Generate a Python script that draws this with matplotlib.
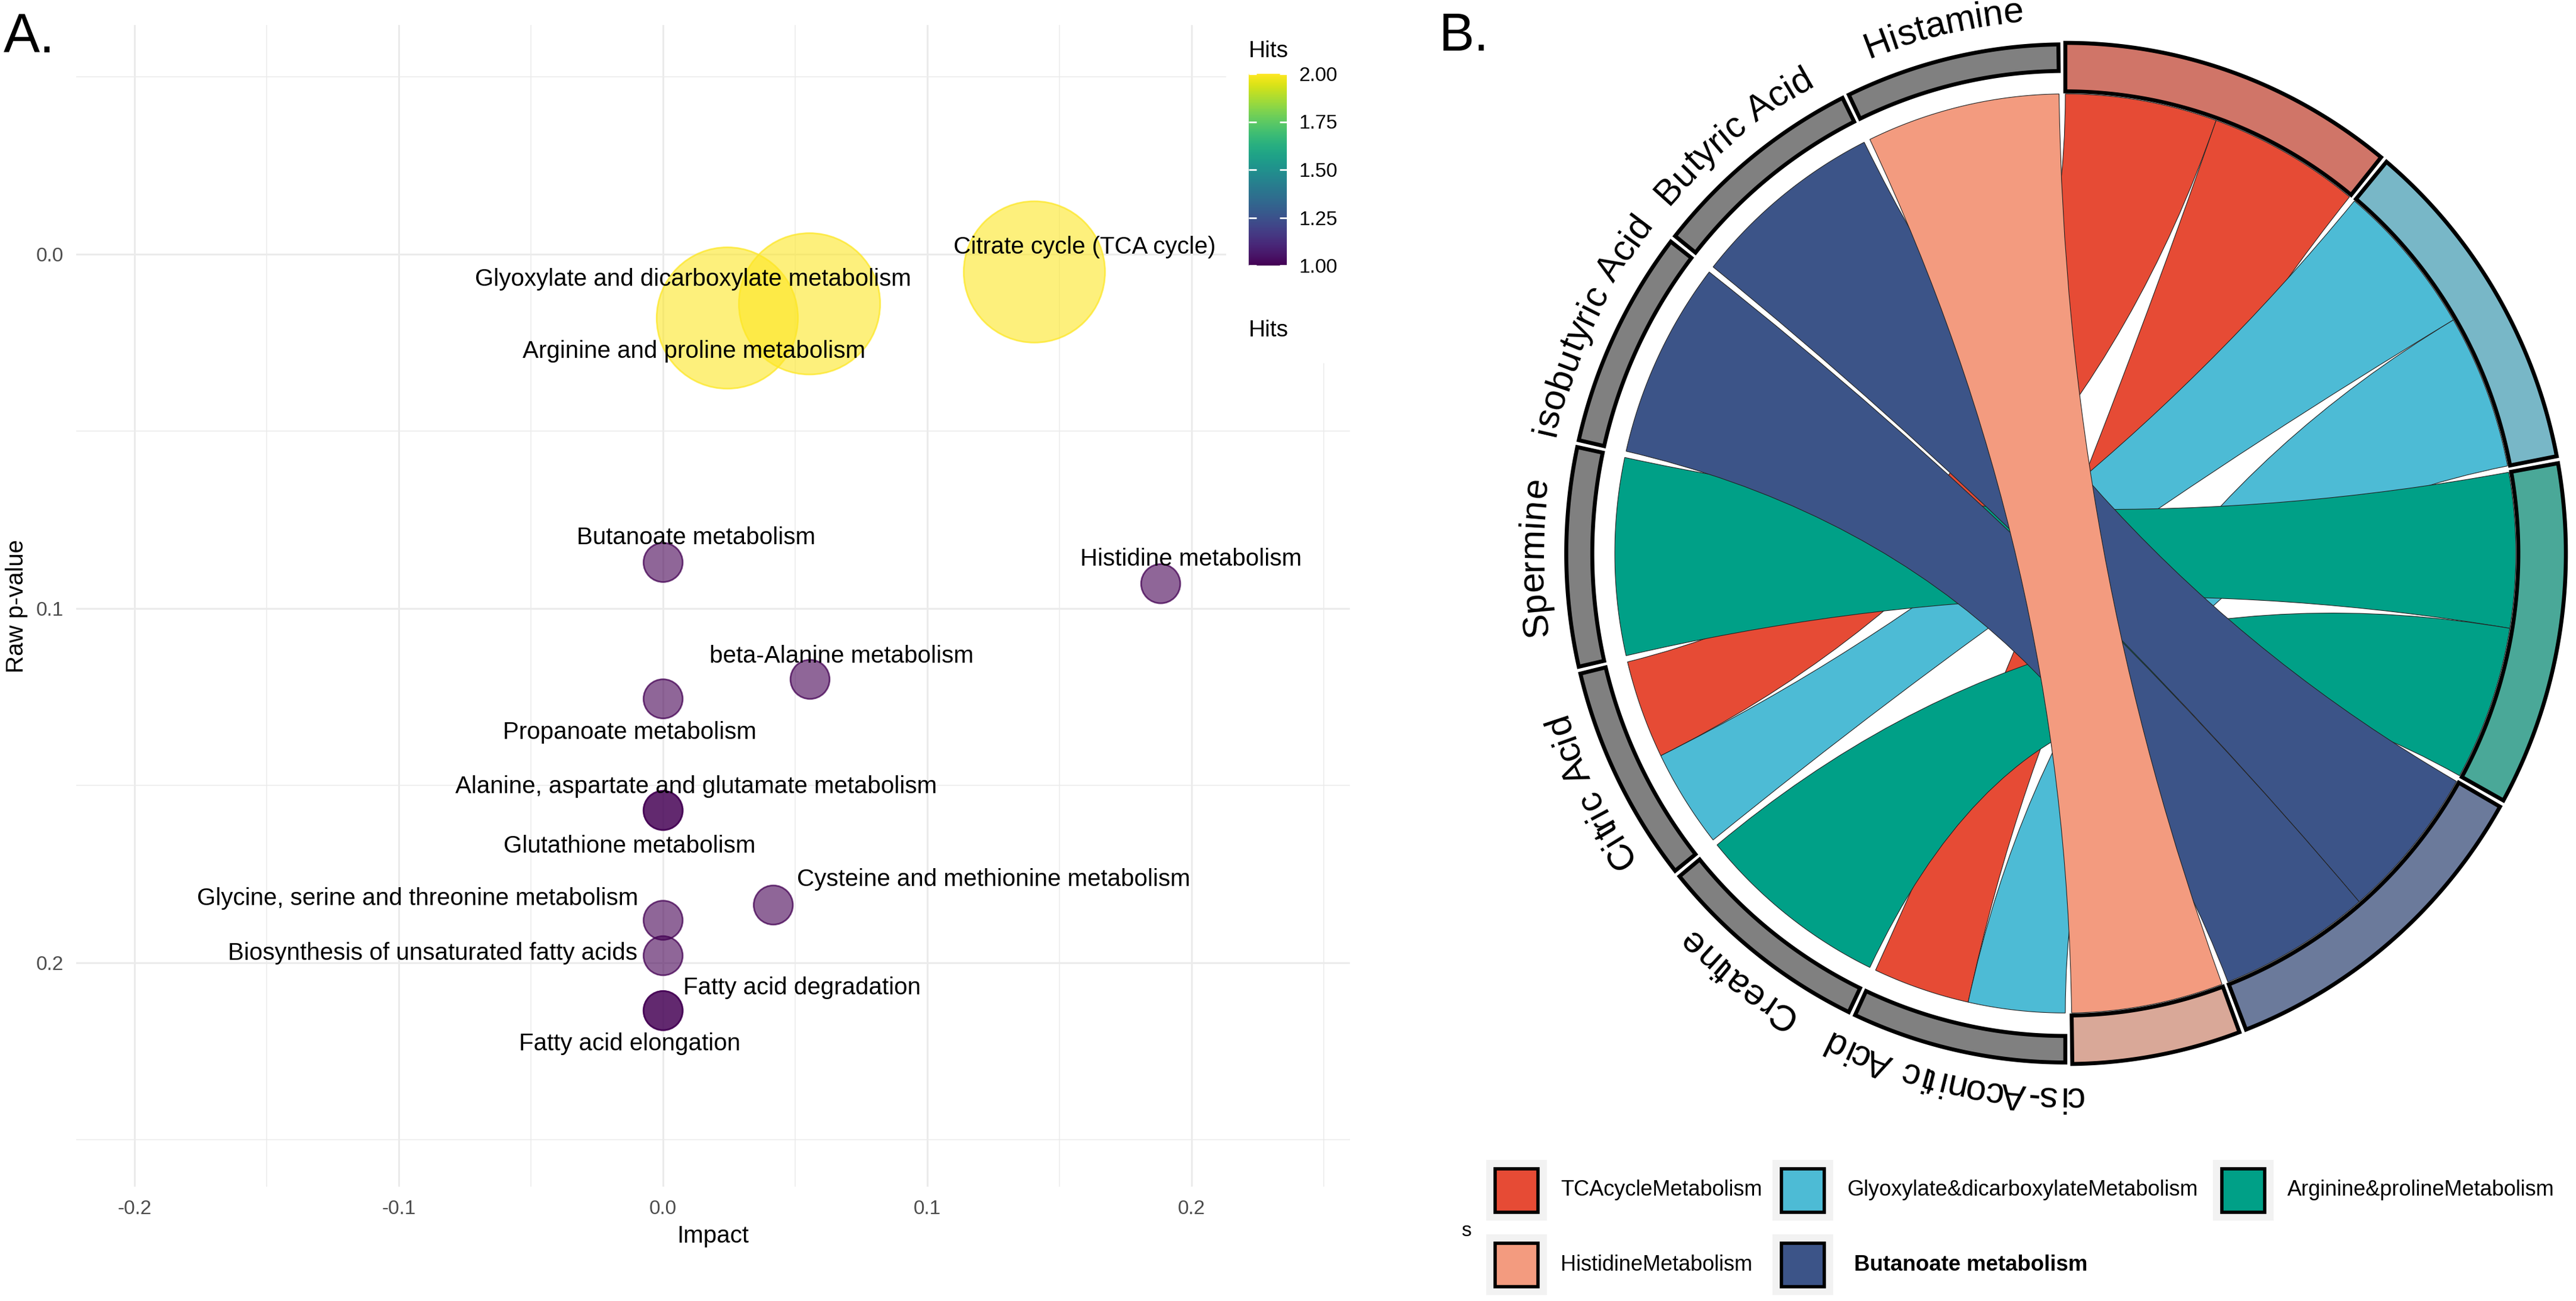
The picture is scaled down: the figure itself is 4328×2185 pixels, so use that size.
import numpy as np
import matplotlib
matplotlib.use('Agg')
import matplotlib.pyplot as plt
import matplotlib.patches as mpatches
from matplotlib.path import Path
from matplotlib.colors import Normalize, to_rgba
from matplotlib.font_manager import FontProperties, findfont
from matplotlib.ft2font import FT2Font
import matplotlib.cm as cm

plt.rcParams['font.family'] = ['Liberation Sans', 'DejaVu Sans']

W, H, DPI = 4328, 2185, 200

# ---------------- panel A: pathway impact vs raw p ----------------
pathways = ['Citrate cycle (TCA cycle)', 'Glyoxylate and dicarboxylate metabolism',
            'Arginine and proline metabolism', 'Butanoate metabolism', 'Histidine metabolism',
            'beta-Alanine metabolism', 'Propanoate metabolism',
            'Alanine, aspartate and glutamate metabolism', 'Glutathione metabolism',
            'Cysteine and methionine metabolism', 'Glycine, serine and threonine metabolism',
            'Biosynthesis of unsaturated fatty acids', 'Fatty acid degradation',
            'Fatty acid elongation']
impact = [0.1405, 0.0554, 0.0243, 0.0, 0.1883, 0.0556, 0.0, 0.0, 0.0, 0.0417, 0.0, 0.0, 0.0, 0.0]
raw_p = [0.005, 0.014, 0.018, 0.087, 0.093, 0.120, 0.1255, 0.157, 0.157, 0.1837, 0.188, 0.198,
         0.2135, 0.2135]
hits = [2, 2, 2, 1, 1, 1, 1, 1, 1, 1, 1, 1, 1, 1]
# label nudges (impact, p) from each point, like ggrepel output
nudge = [(0.019, -0.007), (-0.044, -0.007), (-0.0126, 0.0094), (0.0124, -0.007),
         (0.0115, -0.007), (0.012, -0.0066), (-0.0126, 0.0095), (0.0124, -0.0067),
         (-0.0126, 0.010), (0.0834, -0.0072), (-0.0928, -0.0062), (-0.0872, -0.0007),
         (0.0525, -0.0065), (-0.0126, 0.0094)]

# ---------------- panel B: chord diagram ----------------
pathway_sectors = ['TCAcycleMetabolism', 'Glyoxylate&dicarboxylateMetabolism',
                   'Arginine&prolineMetabolism', 'Butanoate metabolism', 'HistidineMetabolism']
metabolites = ['cis-Aconitic Acid', 'Creatine', 'Citric Acid', 'Spermine',
               'isobutyric Acid', 'Butyric Acid', 'Histamine']
link_from = ['TCAcycleMetabolism', 'TCAcycleMetabolism',
             'Glyoxylate&dicarboxylateMetabolism', 'Glyoxylate&dicarboxylateMetabolism',
             'Arginine&prolineMetabolism', 'Arginine&prolineMetabolism',
             'Butanoate metabolism', 'Butanoate metabolism', 'HistidineMetabolism']
link_to = ['Citric Acid', 'cis-Aconitic Acid', 'Citric Acid', 'cis-Aconitic Acid',
           'Spermine', 'Creatine', 'Butyric Acid', 'isobutyric Acid', 'Histamine']
link_col = {'TCAcycleMetabolism': '#E64B35', 'Glyoxylate&dicarboxylateMetabolism': '#4DBBD5',
            'Arginine&prolineMetabolism': '#00A087', 'Butanoate metabolism': '#3C5488',
            'HistidineMetabolism': '#F39B7F'}
track_col = {'TCAcycleMetabolism': '#D07568', 'Glyoxylate&dicarboxylateMetabolism': '#78B7C7',
             'Arginine&prolineMetabolism': '#4AA898', 'Butanoate metabolism': '#6B7A9B',
             'HistidineMetabolism': '#D9A898'}
legend_order = ['TCAcycleMetabolism', 'Glyoxylate&dicarboxylateMetabolism',
                'Arginine&prolineMetabolism', 'HistidineMetabolism', 'Butanoate metabolism']

fig = plt.figure(figsize=(W / DPI, H / DPI), dpi=DPI)

# ---- A
ax = fig.add_axes([128 / W, 1 - 1993 / H, (2268 - 128) / W, (1993 - 42) / H])
norm = Normalize(1, 2)
cols = plt.cm.viridis(norm(np.array(hits)))
size_map = {1: 560, 2: 7300}
ax.scatter(impact, raw_p, s=[size_map[h] for h in hits],
           c=[to_rgba(c, 0.6) for c in cols], edgecolors=[to_rgba(c, 0.75) for c in cols],
           linewidths=1.0, zorder=3)
for name, x, y, (dx, dy) in zip(pathways, impact, raw_p, nudge):
    ax.text(x + dx, y + dy, name, ha='center', va='center', fontsize=14.5, zorder=4)

ax.set_xlim(-0.2221, 0.2599)
ax.set_ylim(0.2632, -0.0647)
ax.set_xticks([-0.2, -0.1, 0.0, 0.1, 0.2])
ax.set_xticklabels(['-0.2', '-0.1', '0.0', '0.1', '0.2'])
ax.set_xticks([-0.15, -0.05, 0.05, 0.15, 0.25], minor=True)
ax.set_yticks([0.0, 0.1, 0.2])
ax.set_yticklabels(['0.0', '0.1', '0.2'])
ax.set_yticks([-0.05, 0.05, 0.15, 0.25], minor=True)
ax.grid(which='major', color='#EBEBEB', lw=1.1)
ax.grid(which='minor', color='#EBEBEB', lw=0.55)
ax.set_axisbelow(True)
for sp in ax.spines.values():
    sp.set_visible(False)
ax.tick_params(which='both', length=0, labelsize=12, labelcolor='#4D4D4D')
ax.tick_params(axis='x', pad=8)
ax.tick_params(axis='y', pad=7.5)
ax.set_xlabel('Impact', fontsize=14.5, labelpad=4)
ax.set_ylabel('Raw p-value', fontsize=14.5, labelpad=5)

# white legend box over the grid
ax.add_patch(mpatches.Rectangle((2060 / W, 1 - 610 / H), 300 / W, 610 / H,
                                transform=fig.transFigure, facecolor='white',
                                edgecolor='none', zorder=1))

cax = fig.add_axes([2098 / W, 1 - 446 / H, 64 / W, 322 / H])
cb = fig.colorbar(cm.ScalarMappable(norm=norm, cmap='viridis'), cax=cax,
                  ticks=[1, 1.25, 1.5, 1.75, 2])
cb.ax.set_yticklabels(['1.00', '1.25', '1.50', '1.75', '2.00'])
cb.outline.set_visible(False)
cax.tick_params(direction='in', length=4.5, width=1, color='white', left=True, right=True,
                labelsize=12, pad=7.5)
fig.text(2098 / W, 1 - 86 / H, 'Hits', fontsize=14, va='center')
fig.text(2098 / W, 1 - 555 / H, 'Hits', fontsize=14, va='center')

fig.text(6 / W, 1 - 64 / H, 'A.', fontsize=33, va='center')
fig.text(2418 / W, 1 - 62 / H, 'B.', fontsize=32, va='center')

# ---- B
cx, cy, rx, ry = 3470, 929.5, 841, 857.5
bx0, bx1, by0, by1 = 2380, 4328, 0, 1880
axb = fig.add_axes([bx0 / W, 1 - by1 / H, (bx1 - bx0) / W, (by1 - by0) / H])
axb.set_xlim((bx0 - cx) / rx, (bx1 - cx) / rx)
axb.set_ylim((cy - by1) / ry, (cy - by0) / ry)
axb.axis('off')

GAP = 0.8
R_LINK = 0.9
P_IN, P_OUT = 0.905, 1.0
M_IN, M_OUT = 0.945, 0.997


def pt(theta, r):
    t = np.radians(theta)
    return np.array([r * np.sin(t), r * np.cos(t)])


def arc(t0, t1, r, n=60):
    t = np.radians(np.linspace(t0, t1, n))
    return np.column_stack([r * np.sin(t), r * np.cos(t)])


# sector spans: each half of the circle holds one group
n_links = {p: link_from.count(p) for p in pathway_sectors}
unit_p = (180 - GAP * len(pathway_sectors)) / sum(n_links.values())
unit_m = (180 - GAP * len(metabolites)) / len(metabolites)
span = {}
pos = 0.0
for p in pathway_sectors:
    span[p] = (pos, pos + n_links[p] * unit_p)
    pos = span[p][1] + GAP
pos = 180.0
for m in metabolites:
    span[m] = (pos, pos + unit_m)
    pos = span[m][1] + GAP

# link end positions inside each sector
ends_p, ends_m = {}, {}
for p in pathway_sectors:
    idx = sorted([i for i in range(len(link_from)) if link_from[i] == p],
                 key=lambda i: -metabolites.index(link_to[i]))
    for k, i in enumerate(idx):
        ends_p[i] = (span[p][0] + k * unit_p, span[p][0] + (k + 1) * unit_p)
for m in metabolites:
    idx = sorted([i for i in range(len(link_to)) if link_to[i] == m],
                 key=lambda i: -pathway_sectors.index(link_from[i]))
    w = (span[m][1] - span[m][0]) / len(idx)
    for k, i in enumerate(idx):
        ends_m[i] = (span[m][0] + k * w, span[m][0] + (k + 1) * w)

for p in pathway_sectors:
    for i in range(len(link_from)):
        if link_from[i] != p:
            continue
        a1, a2 = ends_p[i]
        b1, b2 = ends_m[i]
        A = arc(a1, a2, R_LINK)
        B = arc(b1, b2, R_LINK)
        verts = list(A) + [(0, 0), B[0]] + list(B[1:]) + [(0, 0), A[0], A[0]]
        codes = ([Path.MOVETO] + [Path.LINETO] * (len(A) - 1) + [Path.CURVE3] * 2
                 + [Path.LINETO] * (len(B) - 1) + [Path.CURVE3] * 2 + [Path.CLOSEPOLY])
        axb.add_patch(mpatches.PathPatch(Path(verts, codes), facecolor=link_col[p],
                                         edgecolor='#222222', lw=0.4))

for p in pathway_sectors:
    t0, t1 = span[p]
    poly = np.vstack([arc(t0, t1, P_OUT), arc(t1, t0, P_IN)])
    axb.add_patch(mpatches.Polygon(poly, closed=True, facecolor=track_col[p],
                                   edgecolor='black', lw=2.4, joinstyle='miter'))
for m in metabolites:
    t0, t1 = span[m]
    poly = np.vstack([arc(t0, t1, M_OUT), arc(t1, t0, M_IN)])
    axb.add_patch(mpatches.Polygon(poly, closed=True, facecolor='#808080',
                                   edgecolor='black', lw=2.4, joinstyle='miter'))


def arc_label(s, theta_c, r, size):
    fp = FontProperties(family='Liberation Sans', size=size)
    font = FT2Font(findfont(fp))
    font.set_size(size, DPI)
    adv = np.array([font.load_char(ord(ch)).linearHoriAdvance / 65536 for ch in s])
    rpx = r * (rx + ry) / 2
    ang = np.degrees(adv / rpx)
    mids = theta_c - ang.sum() / 2 + np.cumsum(ang) - ang / 2
    for ch, t in zip(s, mids):
        x, y = pt(t, r)
        axb.text(x, y, ch, rotation=-t, rotation_mode='anchor', ha='center',
                 va='baseline', fontproperties=fp)


for m in metabolites:
    arc_label(m, (span[m][0] + span[m][1]) / 2, 1.045, 22)

# ---- legend for B
ov = fig.add_axes([0, 0, 1, 1], zorder=5)
ov.set_xlim(0, W)
ov.set_ylim(H, 0)
ov.axis('off')
col_x = [2497, 2978, 3718]
row_y = [1948, 2073]
for k, name in enumerate(legend_order):
    bx, by = col_x[k % 3], row_y[k // 3]
    ov.add_patch(mpatches.Rectangle((bx, by), 102, 102, facecolor='#F2F2F2', edgecolor='none'))
    ov.add_patch(mpatches.Rectangle((bx + 15, by + 15), 72, 73, facecolor=link_col[name],
                                    edgecolor='black', lw=2))
    bold = name == 'Butanoate metabolism'
    ov.text(bx + (137 if bold else 125), by + 51, name, va='center', ha='left',
            fontsize=13.2 if bold else 13, fontweight='bold' if bold else 'normal')
ov.text(2455, 2067, 's', va='center', ha='left', fontsize=12)

fig.savefig('out.png', dpi=DPI)
